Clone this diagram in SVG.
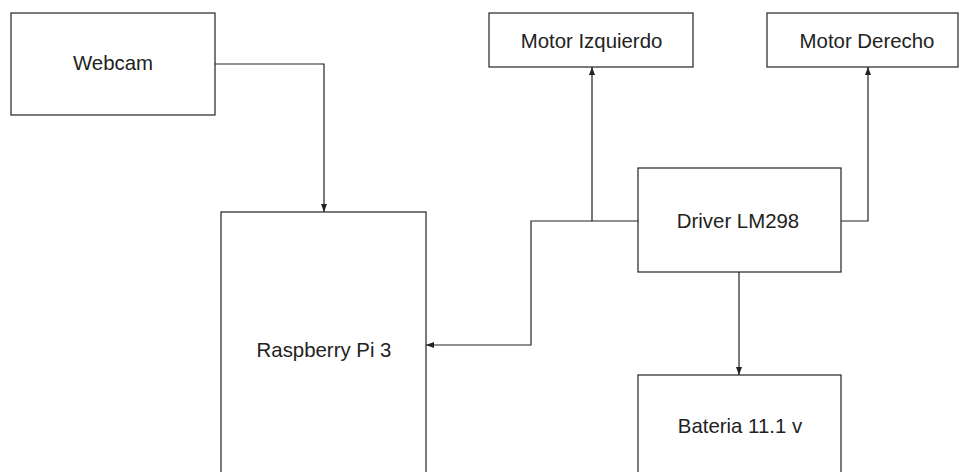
<svg xmlns="http://www.w3.org/2000/svg" width="960" height="472" viewBox="0 0 960 472">
<defs>
<style>
.box{fill:#fff;stroke:#222;stroke-width:1.2}
.lbl{font-family:"Liberation Sans",Arial,sans-serif;font-size:20.4px;fill:#222;text-anchor:middle}
.wire{fill:none;stroke:#222;stroke-width:1.2}
</style>
<marker id="arr" viewBox="0 0 8 6" refX="8" refY="3" markerWidth="8" markerHeight="6" markerUnits="userSpaceOnUse" orient="auto">
<path d="M0,0 L8,3 L0,6 Z" fill="#222"/>
</marker>
</defs>
<rect width="960" height="472" fill="#fff"/>
<g id="connectors">
<path class="wire" d="M215,64 H324 V212" marker-end="url(#arr)"/>
<path class="wire" d="M638,221 H592 V67" marker-end="url(#arr)"/>
<path class="wire" d="M592,221 H531 V345 H426" marker-end="url(#arr)"/>
<path class="wire" d="M841,221 H868 V67" marker-end="url(#arr)"/>
<path class="wire" d="M739,272 V375" marker-end="url(#arr)"/>
</g>
<g id="webcam">
<rect class="box" x="11" y="13" width="204" height="102"/>
<text class="lbl" x="113" y="70">Webcam</text>
</g>
<g id="motor-izquierdo">
<rect class="box" x="489" y="13" width="204" height="54"/>
<text class="lbl" x="591.5" y="48">Motor Izquierdo</text>
</g>
<g id="motor-derecho">
<rect class="box" x="767" y="13" width="191" height="54"/>
<text class="lbl" x="867" y="48">Motor Derecho</text>
</g>
<g id="driver">
<rect class="box" x="638" y="168" width="203" height="104"/>
<text class="lbl" x="738" y="228">Driver LM298</text>
</g>
<g id="raspberry">
<rect class="box" x="221" y="212" width="205" height="280"/>
<text class="lbl" x="324" y="357">Raspberry Pi 3</text>
</g>
<g id="bateria">
<rect class="box" x="638" y="375" width="203" height="117"/>
<text class="lbl" x="740" y="433">Bateria 11.1 v</text>
</g>
</svg>
